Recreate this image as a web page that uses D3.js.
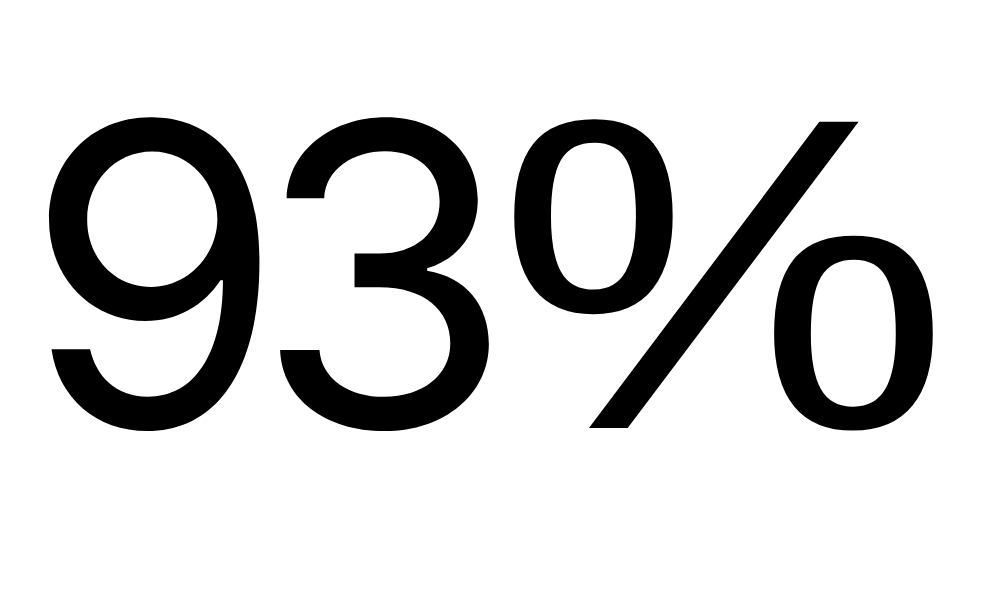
<!DOCTYPE html>
<html><head><meta charset="utf-8">
<script src="https://cdn.jsdelivr.net/npm/d3@7"></script>
<style>html,body{margin:0;padding:0;background:#fff;}</style>
</head><body>
<svg id="c" width="1000" height="600"></svg>
<script>
const values = [93];
const suffixes = ["%"];
const svg = d3.select("#c");
const fmt = d3.format("d");
const g = svg.selectAll("g.kpi").data(values).join("g").attr("class","kpi");
g.append("text")
  .attr("x", 24).attr("y", 427)
  .attr("font-family","Inter, Liberation Sans, Arial, sans-serif")
  .attr("font-size", 420)
  .attr("letter-spacing", -30)
  .attr("fill","#000")
  .text(d => fmt(d));
g.append("text")
  .attr("transform","translate(496,428) scale(1.15,1)")
  .attr("font-family","Liberation Sans, Arial, sans-serif")
  .attr("font-size", 445)
  .attr("fill","#000")
  .text((d,i) => suffixes[i]);
</script>
</body></html>
